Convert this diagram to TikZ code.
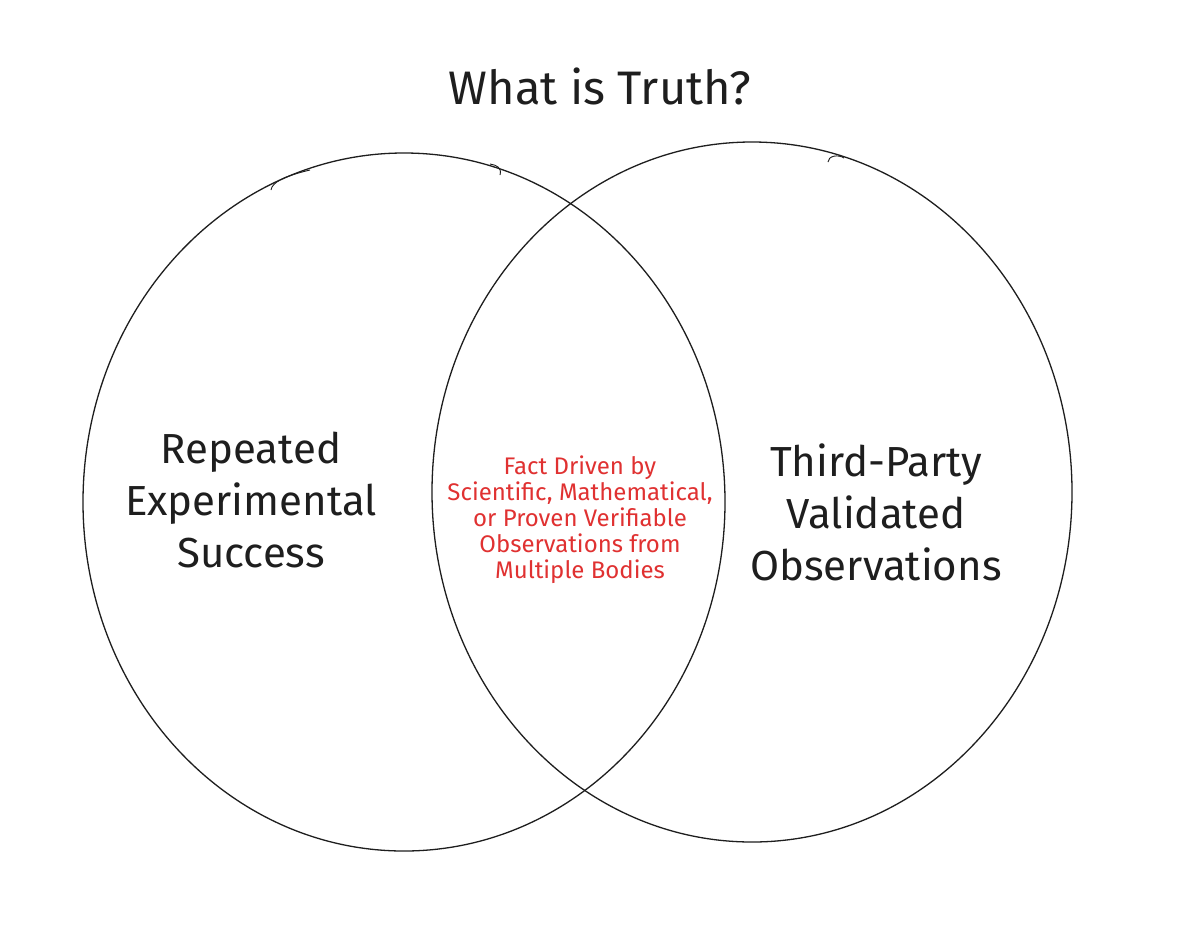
\documentclass[tikz,border=0pt]{standalone}
\usepackage{fontspec}
\setmainfont{Fira Sans}
\definecolor{inkblack}{HTML}{1E1E1E}
\definecolor{inkred}{HTML}{E03131}
\begin{document}
\begin{tikzpicture}[x=1pt,y=-1pt,
  venn/.style={draw=inkblack,line width=1.3pt},
  bigtext/.style={text=inkblack,align=center,font=\fontsize{42}{52}\selectfont},
  redtext/.style={text=inkred,align=center,font=\fontsize{24}{26}\selectfont},
  titletext/.style={text=inkblack,font=\fontsize{47}{52}\selectfont}]
\useasboundingbox[fill=white] (0,0) rectangle (1186,938);
\draw[venn] (404,502) ellipse [x radius=321, y radius=349];
\draw[venn] (752,492) ellipse [x radius=320, y radius=350];
% sketchy overlap strokes
\draw[venn,line width=0.9pt] (271,190) .. controls (272,182) and (285,176) .. (310,170);
\draw[venn,line width=0.9pt] (490,164) .. controls (497,165) and (502,168) .. (500,175);
\draw[venn,line width=0.9pt] (828,162) .. controls (828,156) and (838,154) .. (844,158);
\node[titletext] (title) at (600,86) {What is Truth?};
\node[bigtext] (left) at (251,500) {Repeated\\Experimental\\Success};
\node[bigtext] (right) at (876,512) {Third-Party\\Validated\\Observations};
\node[redtext] (mid) at (580,520) {Fact Driven by\\Scientific, Mathematical,\\or Proven Verifiable\\Observations from\\Multiple Bodies};
\end{tikzpicture}
\end{document}
